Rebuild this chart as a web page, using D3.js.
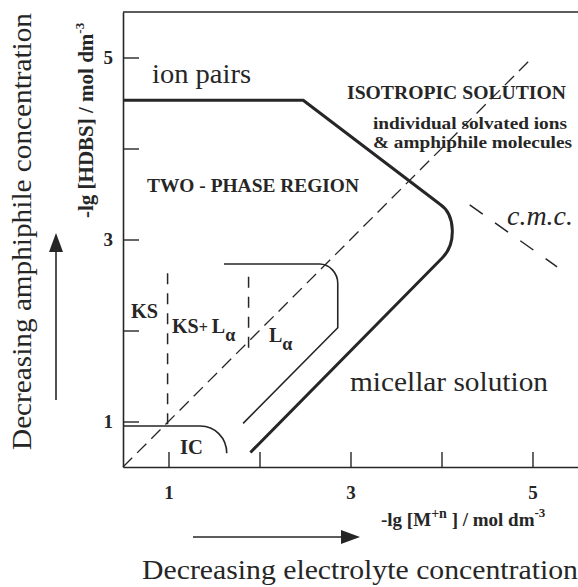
<!DOCTYPE html>
<html>
<head>
<meta charset="utf-8">
<script src="https://cdn.jsdelivr.net/npm/d3@7"></script>
<style>
  html, body { margin: 0; padding: 0; background: #fff; }
  svg { display: block; }
  text { fill: #262626; font-family: "Liberation Serif", "Times New Roman", serif; }
</style>
</head>
<body>
<svg id="chart" width="578" height="587"></svg>
<script>
// ---------- data ----------
const domainX = [0.5, 5.5];
const domainY = [0.5, 5.5];
const tickValues = [1, 2, 3, 4, 5];
const tickLabels = ["1", "", "3", "", "5"];

// heavy phase boundary (two-phase region / solutions)
const boundary = [["M", 0.5, 4.53], ["L", 2.48, 4.53], ["L", 3.98, 3.39],
                  ["C", 4.16, 3.27, 4.16, 2.95, 4.01, 2.80], ["L", 1.90, 0.66]];
// L-alpha region outline
const lalpha = [["M", 1.61, 2.73], ["L", 2.66, 2.73],
                ["C", 2.77, 2.73, 2.86, 2.63, 2.86, 2.52], ["L", 2.86, 2.03], ["L", 1.82, 0.98]];
// IC region outline
const icLine = [["M", 0.5, 0.95], ["L", 1.35, 0.95],
                ["C", 1.51, 0.95, 1.64, 0.82, 1.64, 0.65]];
// dashed lines
const diagonal = [[0.5, 0.5], [4.96, 4.96]];
const ksLine = [[0.99, 2.63], [0.99, 0.97]];
const lalphaLine = [[1.88, 2.59], [1.88, 1.81]];
const cmcLine = [[4.31, 3.38], [5.27, 2.70]];

// ---------- drawing ----------
const svg = d3.select("#chart");
const x = d3.scaleLinear().domain(domainX).range([123, 578]);
const y = d3.scaleLinear().domain(domainY).range([467, 12]);
const ink = "#262626";

function pathFrom(cmds) {
  const p = d3.path();
  cmds.forEach(c => {
    if (c[0] === "M") p.moveTo(x(c[1]), y(c[2]));
    else if (c[0] === "L") p.lineTo(x(c[1]), y(c[2]));
    else if (c[0] === "C") p.bezierCurveTo(x(c[1]), y(c[2]), x(c[3]), y(c[4]), x(c[5]), y(c[6]));
  });
  return p.toString();
}
const line = d3.line().x(d => x(d[0])).y(d => y(d[1]));

// axes
const xAxis = d3.axisBottom(x).tickValues(tickValues)
  .tickFormat((d, i) => tickLabels[i]).tickSizeInner(-15).tickSizeOuter(0).tickPadding(19);
const yAxis = d3.axisLeft(y).tickValues(tickValues)
  .tickFormat((d, i) => tickLabels[i]).tickSizeInner(-16).tickSizeOuter(0).tickPadding(10);

const gx = svg.append("g").attr("transform", `translate(0,${y(domainY[0])})`).call(xAxis);
const gy = svg.append("g").attr("transform", `translate(${x(domainX[0])},0)`).call(yAxis);
[gx, gy].forEach(g => {
  g.select(".domain").attr("stroke", ink).attr("stroke-width", 1.6);
  g.selectAll(".tick line").attr("stroke", ink).attr("stroke-width", 1.4);
  g.selectAll(".tick text").attr("fill", ink).attr("font-size", 19).attr("font-weight", "bold")
    .attr("font-family", "Liberation Serif, serif");
});
// top border
svg.append("path").attr("d", line([[domainX[0], domainY[1]], [domainX[1], domainY[1]]]))
  .attr("stroke", ink).attr("stroke-width", 1.4).attr("fill", "none");

// dashed lines
svg.append("path").attr("d", line(diagonal)).attr("fill", "none")
  .attr("stroke", ink).attr("stroke-width", 1.3).attr("stroke-dasharray", "13,7");
svg.append("path").attr("d", line(ksLine)).attr("fill", "none")
  .attr("stroke", ink).attr("stroke-width", 1.5).attr("stroke-dasharray", "11,9");
svg.append("path").attr("d", line(lalphaLine)).attr("fill", "none")
  .attr("stroke", ink).attr("stroke-width", 1.5).attr("stroke-dasharray", "11,9");
svg.append("path").attr("d", line(cmcLine)).attr("fill", "none")
  .attr("stroke", ink).attr("stroke-width", 1.5).attr("stroke-dasharray", "16,15");

// solid outlines
svg.append("path").attr("d", pathFrom(boundary)).attr("fill", "none")
  .attr("stroke", ink).attr("stroke-width", 3).attr("stroke-linejoin", "round");
svg.append("path").attr("d", pathFrom(lalpha)).attr("fill", "none")
  .attr("stroke", ink).attr("stroke-width", 1.6);
svg.append("path").attr("d", pathFrom(icLine)).attr("fill", "none")
  .attr("stroke", ink).attr("stroke-width", 1.6);

// ---------- text ----------
function label(px, py, str, size, opts = {}) {
  const t = svg.append("text").attr("x", px).attr("y", py).attr("font-size", size).text(str);
  if (opts.bold) t.attr("font-weight", "bold");
  if (opts.italic) t.attr("font-style", "italic");
  if (opts.len) t.attr("textLength", opts.len).attr("lengthAdjust", "spacingAndGlyphs");
  if (opts.anchor) t.attr("text-anchor", opts.anchor);
  return t;
}
label(152, 83, "ion pairs", 27, { len: 99 });
label(147, 192, "TWO - PHASE  REGION", 19, { bold: true, len: 212 });
label(347, 99, "ISOTROPIC  SOLUTION", 19, { bold: true, len: 219 });
label(373, 129, "individual solvated ions", 16.5, { bold: true, len: 194 });
label(373, 148, "& amphiphile molecules", 16.5, { bold: true, len: 199 });
label(507, 225, "c.m.c.", 27, { italic: true, len: 66 });
label(350, 391, "micellar  solution", 27, { len: 198 });
label(131, 318, "KS", 20, { bold: true, len: 27 });
label(180, 454, "IC", 21, { bold: true, len: 23 });

// KS + L_alpha
const ksl = svg.append("text").attr("x", 172).attr("y", 333).attr("font-size", 20).attr("font-weight", "bold");
ksl.append("tspan").text("KS");
ksl.append("tspan").attr("font-size", 16).text("+ ");
ksl.append("tspan").text("L");
ksl.append("tspan").attr("dy", 8).attr("font-size", 18).text("α");
// L_alpha
const la = svg.append("text").attr("x", 269).attr("y", 342).attr("font-size", 20).attr("font-weight", "bold");
la.append("tspan").text("L");
la.append("tspan").attr("dy", 8).attr("font-size", 18).text("α");

// axis titles
const yt = svg.append("text").attr("transform", "translate(93,218) rotate(-90)")
  .attr("font-size", 21).attr("font-weight", "bold");
yt.append("tspan").text("-lg [HDBS] / mol dm");
yt.append("tspan").attr("dy", -9).attr("font-size", 13).text("-3");

const xt = svg.append("text").attr("x", 381).attr("y", 526).attr("font-size", 19).attr("font-weight", "bold");
xt.append("tspan").text("-lg [M");
xt.append("tspan").attr("dy", -8).attr("font-size", 14).text("+n");
xt.append("tspan").attr("dy", 8).text("  ] / mol dm");
xt.append("tspan").attr("dy", -9).attr("font-size", 13).text("-3");

// big descriptive labels
label(0, 0, "Decreasing amphiphile concentration", 27, { len: 437 })
  .attr("x", null).attr("y", null).attr("transform", "translate(31,450) rotate(-90)");
label(142, 579, "Decreasing electrolyte concentration", 27, { len: 436 });

// arrows
svg.append("line").attr("x1", 56).attr("y1", 400).attr("x2", 56).attr("y2", 250)
  .attr("stroke", ink).attr("stroke-width", 1.6);
svg.append("path").attr("d", "M56,233 L49,252 L63,252 Z").attr("fill", ink);
svg.append("line").attr("x1", 193).attr("y1", 537).attr("x2", 342).attr("y2", 537)
  .attr("stroke", ink).attr("stroke-width", 1.6);
svg.append("path").attr("d", "M360,537 L341,530 L341,544 Z").attr("fill", ink);
</script>
</body>
</html>
